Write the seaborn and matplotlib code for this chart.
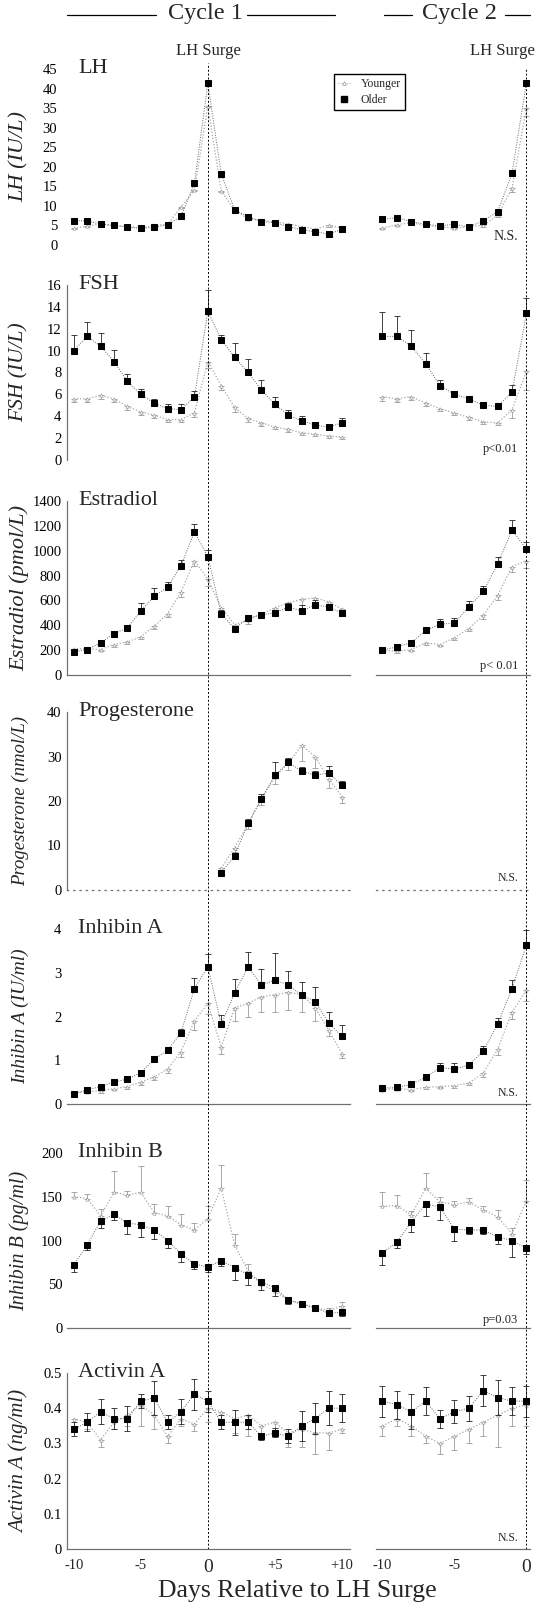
import numpy as np
import pandas as pd
import matplotlib
matplotlib.use('Agg')
import matplotlib.pyplot as plt
from matplotlib.lines import Line2D
import seaborn as sns

sns.set_style('white')
plt.rcParams['font.family'] = ['Liberation Serif', 'DejaVu Serif']

nan = np.nan
days_c1 = list(range(-10, 11))
days_c2 = list(range(-10, 1))

# LH (IU/L)
lh_old_c1 = [6.2, 6.2, 5.3, 5.0, 4.6, 4.3, 4.5, 5.2, 7.3, 15.8, 41.3, 18.2, 9.0, 7.2, 6.0, 5.7, 4.7, 3.9, 3.4, 2.8, 4.0]
lh_old_c1_se = [0.3] * 21
lh_young_c1 = [4.3, 4.8, 5.4, 5.0, 4.8, 4.3, 5.0, 5.3, 9.7, 14.0, 35.6, 13.8, 8.9, 6.7, 6.3, 5.9, 5.4, 4.7, 4.1, 5.0, 4.3]
lh_young_c1_se = [0.3] * 21
lh_old_c2 = [6.6, 7.0, 6.0, 5.3, 4.9, 5.3, 4.6, 6.2, 8.5, 18.3, 41.5]
lh_old_c2_se = [0.3] * 11
lh_young_c2 = [4.3, 5.2, 5.7, 5.0, 4.6, 4.3, 4.7, 5.0, 7.6, 14.5, 35.0]
lh_young_c2_se = [0.3, 0.3, 0.3, 0.3, 0.3, 0.3, 0.3, 0.3, 0.5, 1.0, 2.0]

# FSH (IU/L)
fsh_old_c1 = [10.0, 11.3, 10.4, 9.0, 7.2, 6.0, 5.2, 4.7, 4.6, 5.8, 13.6, 11.0, 9.4, 8.0, 6.4, 5.1, 4.1, 3.6, 3.2, 3.0, 3.4]
fsh_old_c1_se = [1.4, 1.3, 1.2, 1.1, 0.7, 0.5, 0.4, 0.4, 0.5, 0.5, 1.9, 0.4, 1.3, 1.2, 0.9, 0.7, 0.5, 0.4, 0.3, 0.3, 0.4]
fsh_young_c1 = [5.6, 5.6, 5.9, 5.6, 4.9, 4.4, 4.1, 3.7, 3.7, 4.3, 9.0, 6.8, 4.8, 3.8, 3.4, 3.0, 2.8, 2.5, 2.35, 2.2, 2.1]
fsh_young_c1_se = [0.3, 0.3, 0.3, 0.3, 0.3, 0.3, 0.3, 0.2, 0.2, 0.4, 0.6, 0.4, 0.4, 0.3, 0.3, 0.2, 0.2, 0.2, 0.2, 0.2, 0.2]
fsh_old_c2 = [11.3, 11.3, 10.4, 8.8, 6.8, 6.0, 5.6, 5.0, 4.9, 6.2, 13.4]
fsh_old_c2_se = [2.2, 1.9, 1.5, 1.0, 0.5, 0.3, 0.2, 0.15, 0.2, 0.7, 1.4]
fsh_young_c2 = [5.8, 5.6, 5.8, 5.2, 4.7, 4.3, 3.9, 3.5, 3.4, 4.6, 8.1]
fsh_young_c2_se = [0.4, 0.3, 0.3, 0.3, 0.2, 0.2, 0.2, 0.2, 0.2, 0.8, 1.7]

# Estradiol (pmol/L)
e2_old_c1 = [187, 205, 259, 333, 379, 515, 632, 707, 880, 1152, 952, 493, 373, 459, 485, 501, 547, 515, 565, 547, 499]
e2_old_c1_se = [15, 15, 26, 22, 26, 64, 69, 45, 45, 61, 53, 30, 20, 26, 15, 20, 32, 45, 35, 20, 15]
e2_young_c1 = [213, 210, 205, 245, 267, 307, 392, 493, 667, 920, 770, 540, 405, 440, 490, 540, 580, 610, 620, 590, 530]
e2_young_c1_se = [15, 15, 15, 20, 20, 20, 25, 30, 40, 45, 50, 60, 30, 30, 30, 30, 35, 50, 35, 35, 30]
e2_old_c2 = [200, 227, 259, 360, 408, 419, 547, 672, 893, 1165, 1013]
e2_old_c2_se = [10, 12, 15, 20, 40, 40, 45, 48, 59, 80, 54]
e2_young_c2 = [200, 192, 205, 259, 245, 299, 373, 480, 640, 872, 920]
e2_young_c2_se = [15, 15, 15, 15, 15, 20, 20, 30, 35, 40, 60]

# Progesterone (nmol/L), luteal phase of cycle 1 only
p_old_c1 = [nan] * 11 + [3.9, 7.7, 15.0, 20.5, 25.8, 28.7, 26.7, 25.8, 26.3, 23.5]
p_old_c1_se = [nan] * 11 + [0.4, 0.5, 1.0, 1.0, 3.0, 1.0, 1.0, 1.0, 1.5, 1.0]
p_young_c1 = [nan] * 11 + [4.9, 9.5, 14.8, 20.5, 25.4, 28.5, 32.5, 30.0, 25.0, 21.0]
p_young_c1_se = [nan] * 11 + [1.0, 1.0, 1.0, 1.5, 1.5, 1.5, 3.5, 2.5, 2.0, 1.5]

# Inhibin A (IU/ml)
ia_old_c1 = [0.24, 0.32, 0.40, 0.50, 0.57, 0.72, 1.02, 1.23, 1.63, 2.64, 3.14, 1.82, 2.54, 3.13, 2.72, 2.83, 2.72, 2.49, 2.34, 1.86, 1.55]
ia_old_c1_se = [0.03, 0.03, 0.04, 0.05, 0.05, 0.06, 0.07, 0.08, 0.08, 0.24, 0.29, 0.21, 0.32, 0.35, 0.37, 0.62, 0.33, 0.31, 0.33, 0.25, 0.26]
ia_young_c1 = [0.25, 0.28, 0.30, 0.35, 0.40, 0.50, 0.62, 0.80, 1.20, 1.90, 2.30, 1.30, 2.20, 2.30, 2.45, 2.50, 2.55, 2.50, 2.20, 1.70, 1.15]
ia_young_c1_se = [0.03, 0.03, 0.04, 0.04, 0.05, 0.06, 0.08, 0.10, 0.12, 0.20, 0.25, 0.15, 0.30, 0.30, 0.35, 0.40, 0.40, 0.40, 0.30, 0.15, 0.10]
ia_old_c2 = [0.36, 0.38, 0.45, 0.61, 0.83, 0.80, 0.89, 1.21, 1.82, 2.64, 3.63]
ia_old_c2_se = [0.03, 0.03, 0.04, 0.05, 0.10, 0.13, 0.08, 0.11, 0.14, 0.20, 0.34]
ia_young_c2 = [0.33, 0.35, 0.33, 0.38, 0.40, 0.42, 0.48, 0.70, 1.25, 2.10, 2.60]
ia_young_c2_se = [0.03, 0.03, 0.03, 0.04, 0.04, 0.05, 0.05, 0.08, 0.12, 0.15, 0.25]

# Inhibin B (pg/ml)
ib_old_c1 = [72, 95, 122, 130, 120, 118, 112, 100, 85, 73, 70, 77, 69, 61, 53, 46, 32, 28, 23, 17, 18]
ib_old_c1_se = [8, 6, 8, 6, 12, 14, 10, 8, 9, 6, 6, 6, 14, 12, 10, 9, 5, 4, 4, 3, 4]
ib_young_c1 = [150, 148, 128, 155, 152, 155, 132, 128, 118, 112, 125, 160, 95, 65, 50, 42, 32, 27, 23, 20, 25]
ib_young_c1_se = [5, 5, 8, 24, 5, 30, 10, 12, 12, 8, 14, 26, 12, 8, 6, 5, 4, 3, 3, 3, 5]
ib_old_c2 = [86, 98, 121, 142, 138, 113, 112, 112, 104, 100, 91]
ib_old_c2_se = [14, 6, 11, 14, 15, 14, 4, 4, 8, 19, 6]
ib_young_c2 = [139, 140, 129, 160, 144, 141, 144, 135, 127, 108, 145]
ib_young_c2_se = [17, 12, 5, 17, 6, 4, 5, 5, 8, 6, 24]

# Activin A (ng/ml)
aa_old_c1 = [0.34, 0.36, 0.39, 0.37, 0.37, 0.42, 0.43, 0.36, 0.39, 0.44, 0.42, 0.36, 0.36, 0.36, 0.32, 0.33, 0.32, 0.35, 0.37, 0.40, 0.40]
aa_old_c1_se = [0.02, 0.025, 0.035, 0.03, 0.035, 0.02, 0.048, 0.02, 0.036, 0.044, 0.03, 0.02, 0.035, 0.02, 0.01, 0.013, 0.02, 0.043, 0.044, 0.048, 0.04]
aa_young_c1 = [0.37, 0.36, 0.31, 0.36, 0.38, 0.41, 0.38, 0.32, 0.37, 0.355, 0.40, 0.39, 0.37, 0.38, 0.35, 0.36, 0.33, 0.34, 0.33, 0.33, 0.34]
aa_young_c1_se = [0.02, 0.02, 0.02, 0.02, 0.03, 0.06, 0.04, 0.02, 0.02, 0.02, 0.04, 0.03, 0.04, 0.06, 0.02, 0.03, 0.04, 0.05, 0.06, 0.05, 0.01]
aa_old_c2 = [0.42, 0.41, 0.39, 0.42, 0.37, 0.39, 0.40, 0.45, 0.43, 0.42, 0.42]
aa_old_c2_se = [0.044, 0.04, 0.05, 0.04, 0.025, 0.032, 0.036, 0.043, 0.049, 0.04, 0.044]
aa_young_c2 = [0.35, 0.37, 0.35, 0.32, 0.30, 0.32, 0.34, 0.36, 0.38, 0.40, 0.41]
aa_young_c2_se = [0.03, 0.02, 0.03, 0.02, 0.03, 0.04, 0.04, 0.04, 0.09, 0.05, 0.06]

W, H = 537, 1609
OLD = 'black'
YOUNG = '#a8a8a8'
SPINE = '#707070'
C1 = (67, 350, (-10.5, 10.6))
C2 = (376, 530, (-10.45, 0.25))


def rect(x0, x1, ytop, ybot):
    return [x0 / W, 1 - ybot / H, (x1 - x0) / W, (ybot - ytop) / H]


def yerr(se, d):
    se = np.asarray(se, float)
    z = np.zeros_like(se)
    if d == 'up':
        return [z, se]
    if d == 'down':
        return [se, z]
    return [se, se]


panels = [
    dict(name='LH', ylabel='LH (IU/L)', ylfs=16, ylim=45, yticks=list(range(0, 46, 5)), top=69, bot=245,
         c1=(lh_old_c1, lh_old_c1_se, lh_young_c1, lh_young_c1_se),
         c2=(lh_old_c2, lh_old_c2_se, lh_young_c2, lh_young_c2_se),
         dirs=('up', 'down'), note='N.S.', note_y=2.1, note_fs=10,
         left=False, bottom=None, xt1=[], xt2=[], ytl=0),
    dict(name='FSH', ylabel='FSH (IU/L)', ylfs=15.5, ylim=16, yticks=list(range(0, 17, 2)), top=285, bot=460,
         c1=(fsh_old_c1, fsh_old_c1_se, fsh_young_c1, fsh_young_c1_se),
         c2=(fsh_old_c2, fsh_old_c2_se, fsh_young_c2, fsh_young_c2_se),
         dirs=('up', 'down'), note='p<0.01', note_y=1.0, note_fs=9,
         left=True, bottom=None, xt1=days_c1, xt2=days_c2, ytl=2.5),
    dict(name='Estradiol', ylabel='Estradiol (pmol/L)', ylfs=16, ylim=1400, yticks=list(range(0, 1401, 200)), top=501, bot=675,
         c1=(e2_old_c1, e2_old_c1_se, e2_young_c1, e2_young_c1_se),
         c2=(e2_old_c2, e2_old_c2_se, e2_young_c2, e2_young_c2_se),
         dirs=('up', 'down'), note='p< 0.01', note_y=75, note_fs=9,
         left=True, bottom='-', xt1=[5], xt2=[], ytl=2.5),
    dict(name='Progesterone', ylabel='Progesterone (nmol/L)', ylfs=13.5, ylim=40, yticks=[0, 10, 20, 30, 40], top=712, bot=890,
         c1=(p_old_c1, p_old_c1_se, p_young_c1, p_young_c1_se),
         c2=None,
         dirs=('up', 'down'), note='N.S.', note_y=2.6, note_fs=8.5,
         left=True, bottom=':', xt1=[5], xt2=[], ytl=2.5),
    dict(name='Inhibin A', ylabel='Inhibin A (IU/ml)', ylfs=14, ylim=4, yticks=[0, 1, 2, 3, 4], top=929, bot=1104,
         c1=(ia_old_c1, ia_old_c1_se, ia_young_c1, ia_young_c1_se),
         c2=(ia_old_c2, ia_old_c2_se, ia_young_c2, ia_young_c2_se),
         dirs=('up', 'down'), note='N.S.', note_y=0.25, note_fs=8.5,
         left=False, bottom='-', xt1=days_c1, xt2=days_c2, ytl=2.5),
    dict(name='Inhibin B', ylabel='Inhibin B (pg/ml)', ylfs=14.5, ylim=200, yticks=[0, 50, 100, 150, 200], top=1153, bot=1328,
         c1=(ib_old_c1, ib_old_c1_se, ib_young_c1, ib_young_c1_se),
         c2=(ib_old_c2, ib_old_c2_se, ib_young_c2, ib_young_c2_se),
         dirs=('down', 'up'), note='p=0.03', note_y=9, note_fs=9,
         left=False, bottom='-', xt1=[], xt2=[-9], ytl=1.5),
    dict(name='Activin A', ylabel='Activin A (ng/ml)', ylfs=15, ylim=0.5, yticks=[0, 0.1, 0.2, 0.3, 0.4, 0.5], top=1373, bot=1549,
         c1=(aa_old_c1, aa_old_c1_se, aa_young_c1, aa_young_c1_se),
         c2=(aa_old_c2, aa_old_c2_se, aa_young_c2, aa_young_c2_se),
         dirs=('both', 'down'), note='N.S.', note_y=0.03, note_fs=8.5,
         left=True, bottom='-', xt1=[-10, -5, 0, 5, 10], xt2=[-10, -5, 0], ytl=2.5),
]

fig = plt.figure(figsize=(W / 100, H / 100), dpi=100)

for p in panels:
    ax1 = fig.add_axes(rect(C1[0], C1[1], p['top'], p['bot']))
    ax2 = fig.add_axes(rect(C2[0], C2[1], p['top'], p['bot']))
    for ax, days, data, xl, xt in [(ax1, days_c1, p['c1'], C1[2], p['xt1']),
                                   (ax2, days_c2, p['c2'], C2[2], p['xt2'])]:
        ax.set_facecolor('none')
        if data is not None:
            old, old_se, young, young_se = data
            df = pd.DataFrame({'day': days, 'Older': old, 'Younger': young})
            ax.errorbar(days, young, yerr=yerr(young_se, p['dirs'][1]), fmt='none',
                        ecolor='#9a9a9a', elinewidth=0.6, capsize=2, capthick=0.6, zorder=2)
            sns.lineplot(data=df, x='day', y='Younger', ax=ax, color=YOUNG, lw=0.9,
                         linestyle=(0, (1, 1.5)), marker='^', markersize=2.4,
                         markerfacecolor='white', markeredgecolor='#a0a0a0', markeredgewidth=0.5, zorder=3)
            ax.errorbar(days, old, yerr=yerr(old_se, p['dirs'][0]), fmt='none',
                        ecolor='#222222', elinewidth=0.6, capsize=2, capthick=0.6, zorder=4)
            sns.lineplot(data=df, x='day', y='Older', ax=ax, color='#666666', lw=0.7,
                         linestyle=(0, (1, 1.5)), marker='s', markersize=3.8,
                         markerfacecolor=OLD, markeredgecolor=OLD, zorder=5)
        if ax.get_legend() is not None:
            ax.get_legend().remove()
        ax.set_xlim(*xl)
        ax.set_ylim(0, p['ylim'])
        ax.set_xlabel('')
        ax.set_ylabel('')
        for s in ['top', 'right', 'left', 'bottom']:
            ax.spines[s].set_visible(False)
        if p['bottom'] is not None:
            ax.spines['bottom'].set_visible(True)
            ax.spines['bottom'].set_color(SPINE)
            ax.spines['bottom'].set_linewidth(0.9)
            ax.spines['bottom'].set_linestyle('-' if p['bottom'] == '-' else (0, (1, 4)))
        ax.set_xticks(xt)
        ax.tick_params(axis='x', direction='out', length=3.5, width=0.7, color=SPINE,
                       labelbottom=False)
    # left column y axis
    ax1.set_yticks(p['yticks'])
    if p['name'] == 'Activin A':
        ax1.set_yticklabels(['0', '0.1', '0.2', '0.3', '0.4', '0.5'])
    if p['left']:
        ax1.spines['left'].set_visible(True)
        ax1.spines['left'].set_color(SPINE)
        ax1.spines['left'].set_linewidth(0.9)
    ax1.tick_params(axis='y', length=p['ytl'], width=0.7, color=SPINE,
                    pad=7 if p['ytl'] == 0 else 1.5, labelsize=10.5, labelcolor='black')
    ax2.set_yticks([])
    ax1.set_ylabel(p['ylabel'], fontsize=p['ylfs'], style='italic')
    ax1.yaxis.set_label_coords(-0.135, 0.5)
    ax1.text(11 / 283, 0.975, p['name'], transform=ax1.transAxes, fontsize=16, va='baseline', ha='left')
    ax2.text(-0.55, p['note_y'], p['note'], fontsize=p['note_fs'], ha='right', va='center')
    if p['name'] == 'Activin A':
        labs1 = ['-10', '-5', '0', '+5', '+10']
        for ax, labs in [(ax1, labs1), (ax2, ['-10', '-5', '0'])]:
            ax.set_xticklabels(labs)
            ax.tick_params(axis='x', length=0, pad=7, labelbottom=True, labelsize=10.5)
            for t in ax.get_xticklabels():
                if t.get_text() == '0':
                    t.set_fontsize(14)

# legend
handles = [Line2D([], [], color=YOUNG, ls=(0, (1, 1.5)), lw=0.8, marker='^', ms=2.6,
                  mfc='white', mec='#999999', mew=0.5),
           Line2D([], [], color='none', marker='s', ms=3.8, mfc=OLD, mec=OLD)]
fig.legend(handles, ['Younger', 'Older'], loc='upper left', bbox_to_anchor=(334 / W, 1 - 74 / H),
           frameon=True, fancybox=False, edgecolor='black', fontsize=8.5, handlelength=1.0,
           borderpad=0.35, labelspacing=0.35, handletextpad=0.9, borderaxespad=0, framealpha=1)

# vertical dotted LH-surge lines
for x0, x1, xl, ytop in [(C1[0], C1[1], C1[2], 63), (C2[0], C2[1], C2[2], 68)]:
    ov = fig.add_axes(rect(x0, x1, ytop, 1549))
    ov.set_xlim(*xl)
    ov.set_ylim(0, 1)
    ov.axvline(0, color='black', lw=0.7, ls=(0, (2, 2)))
    ov.axis('off')

# headers
fig.text(205 / W, 1 - 14 / H, 'Cycle 1', ha='center', va='center', fontsize=17.5)
fig.text(460 / W, 1 - 14 / H, 'Cycle 2', ha='center', va='center', fontsize=17.5)
for xa, xb in [(67, 156), (247, 335), (384, 412), (505, 530)]:
    fig.add_artist(Line2D([xa / W, xb / W], [1 - 15 / H, 1 - 15 / H], color='black', lw=0.9,
                          transform=fig.transFigure))
fig.text(208 / W, 1 - 51 / H, 'LH Surge', ha='center', va='center', fontsize=12)
fig.text(502 / W, 1 - 51 / H, 'LH Surge', ha='center', va='center', fontsize=12)

fig.text(297 / W, 1 - 1591 / H, 'Days Relative to LH Surge', ha='center', va='center', fontsize=18.5)

fig.savefig('out.png', dpi=100, facecolor='white')
